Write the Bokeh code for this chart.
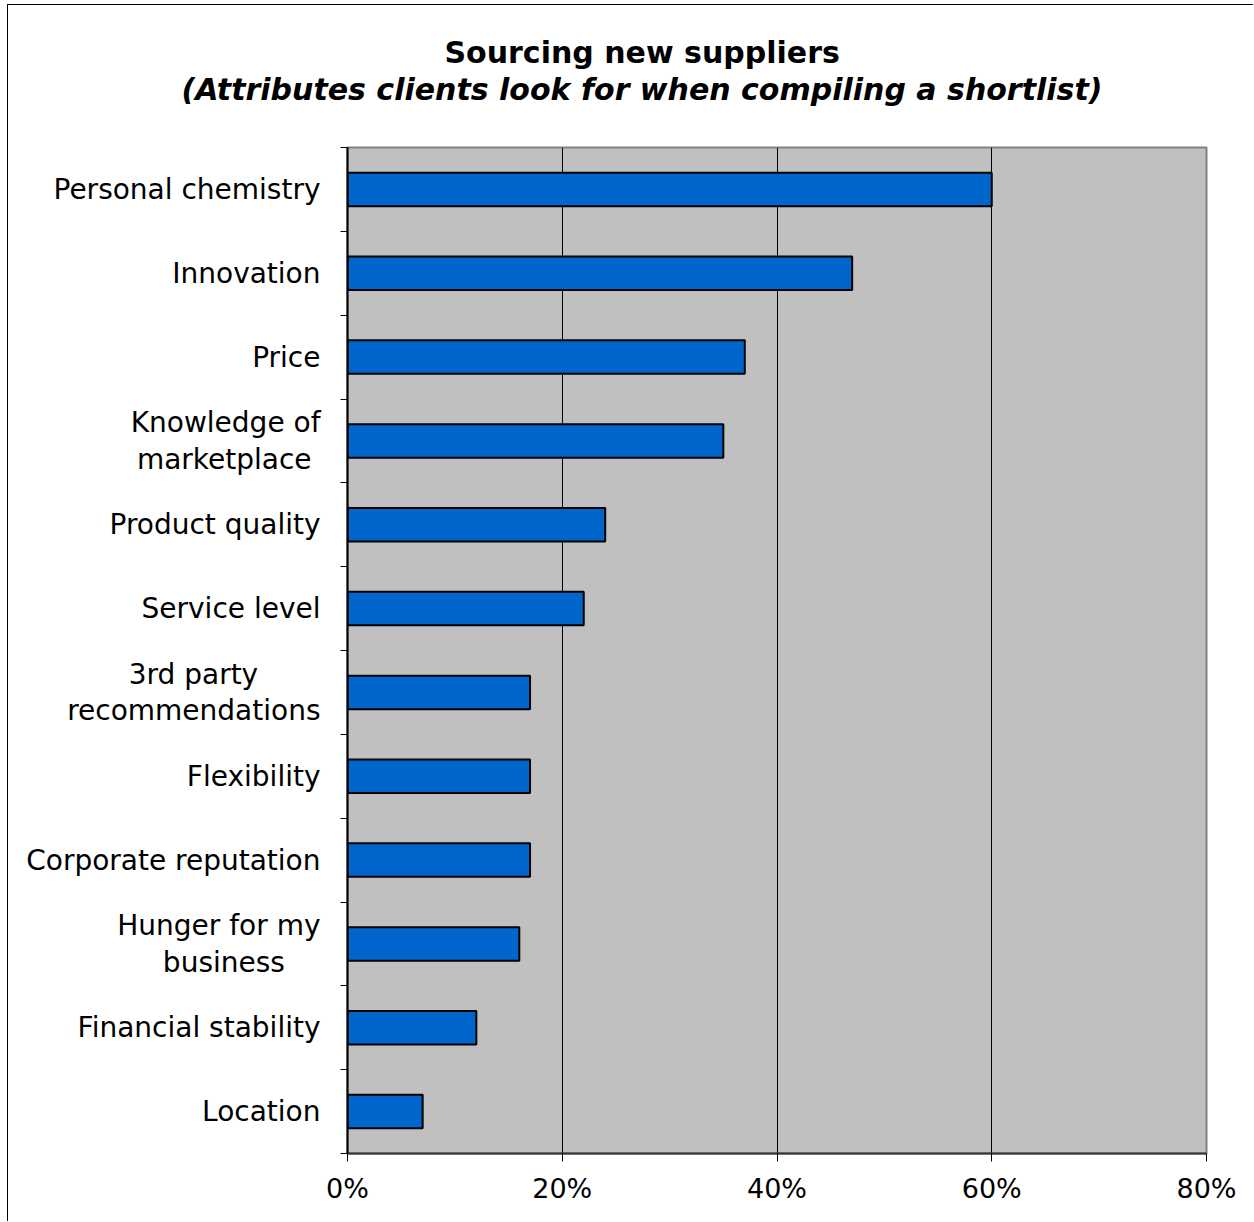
from bokeh.plotting import figure
from bokeh.models import ColumnDataSource, Range1d, FixedTicker, Title
from bokeh.embed import file_html
from bokeh.resources import INLINE

# ---- data (top to bottom as in the chart) ----
categories = ["Personal chemistry", "Innovation", "Price", "Knowledge of\nmarketplace",
              "Product quality", "Service level", "3rd party\nrecommendations",
              "Flexibility", "Corporate reputation", "Hunger for my\nbusiness",
              "Financial stability", "Location"]
values = [60, 47, 37, 35, 24, 22, 17, 17, 17, 16, 12, 7]
x_ticks = [0, 20, 40, 60, 80]
x_tick_labels = ["0%", "20%", "40%", "60%", "80%"]
title_line1 = "Sourcing new suppliers"
title_line2 = "(Attributes clients look for when compiling a shortlist)"

n = len(categories)
pos = [n - 1 - i + 0.5 for i in range(n)]
src = ColumnDataSource(dict(y=pos, v=values))

FONT = "DejaVu Sans"
NBSP = "\u00A0"

# approximate DejaVu Sans advance widths (em) used to centre multi-line labels
_W = dict(a=.613, b=.635, c=.550, d=.635, e=.615, f=.352, g=.635, h=.634, i=.278,
          j=.278, k=.579, l=.278, m=.974, n=.634, o=.612, p=.635, q=.635, r=.411,
          s=.521, t=.392, u=.634, v=.592, w=.818, x=.592, y=.592, z=.525)


def _width(s):
    return sum(_W.get(ch, .636 if ch.isdigit() else (.318 if ch == " " else .7))
               for ch in s)


def centre_lines(label):
    """Right-aligned axis labels: pad shorter lines so the block looks centred."""
    lines = label.split("\n")
    if len(lines) == 1:
        return label
    longest = max(_width(s) for s in lines)
    return "\n".join(s + NBSP * round((longest - _width(s)) / 2 / 0.318)
                     for s in lines)


p = figure(width=1246, height=1217, output_backend="svg", toolbar_location=None,
           x_range=Range1d(0, 80), y_range=Range1d(0, n),
           min_border_left=339, min_border_right=48, min_border_top=142,
           min_border_bottom=69)
p.styles = {"margin-left": "7px", "margin-top": "4px",
            "border-left": "1px solid black", "border-top": "1px solid black"}
p.background_fill_color = "#C0C0C0"
p.border_fill_color = "white"
p.outline_line_color = "#808080"
p.outline_line_width = 2

p.hbar(y="y", right="v", left=0, height=0.4, source=src,
       fill_color="#0066CC", line_color="black", line_width=2)

# x axis
p.xaxis.ticker = FixedTicker(ticks=x_ticks)
p.xaxis.major_label_overrides = {t: l for t, l in zip(x_ticks, x_tick_labels)}
p.xaxis.major_label_text_font = FONT
p.xaxis.major_label_text_font_size = "27px"
p.xaxis.major_label_text_color = "black"
p.xaxis.major_label_standoff = 11
p.xaxis.axis_line_color = "#333333"
p.xaxis.axis_line_width = 2
p.xaxis.major_tick_line_color = "black"
p.xaxis.major_tick_out = 8
p.xaxis.major_tick_in = 0
p.xaxis.minor_tick_line_color = None

# y axis: labels at category centres, ticks at category boundaries
p.yaxis.ticker = FixedTicker(ticks=pos, minor_ticks=list(range(n + 1)))
p.yaxis.major_label_overrides = {y: centre_lines(c) for y, c in zip(pos, categories)}
p.yaxis.major_label_text_font = FONT
p.yaxis.major_label_text_font_size = "28px"
p.yaxis.major_label_text_color = "black"
p.yaxis.major_label_text_line_height = 1.1
p.yaxis.major_label_standoff = 20
p.yaxis.axis_line_color = "black"
p.yaxis.axis_line_width = 2
p.yaxis.major_tick_line_color = None
p.yaxis.major_tick_out = 0
p.yaxis.major_tick_in = 0
p.yaxis.minor_tick_line_color = "black"
p.yaxis.minor_tick_out = 7
p.yaxis.minor_tick_in = 0

p.xgrid.ticker = FixedTicker(ticks=x_ticks)
p.xgrid.grid_line_color = "black"
p.xgrid.grid_line_width = 1
p.ygrid.grid_line_color = None

# titles (panels stack outward from the frame: spacer, line 2, then line 1)
p.title.text = title_line1
p.title.align = "left"
p.title.offset = 97
p.title.text_font = FONT
p.title.text_font_size = "30px"
p.title.text_font_style = "bold"
p.title.text_color = "black"
p.title.standoff = 0
p.add_layout(Title(text=NBSP, text_font_size="10px", standoff=28), "above")
p.add_layout(Title(text=title_line2, align="left", offset=-166, text_font=FONT,
                   text_font_size="30px", text_font_style="bold italic",
                   text_color="black", standoff=0), "above")

open("out.html", "w").write(file_html(p, INLINE))
